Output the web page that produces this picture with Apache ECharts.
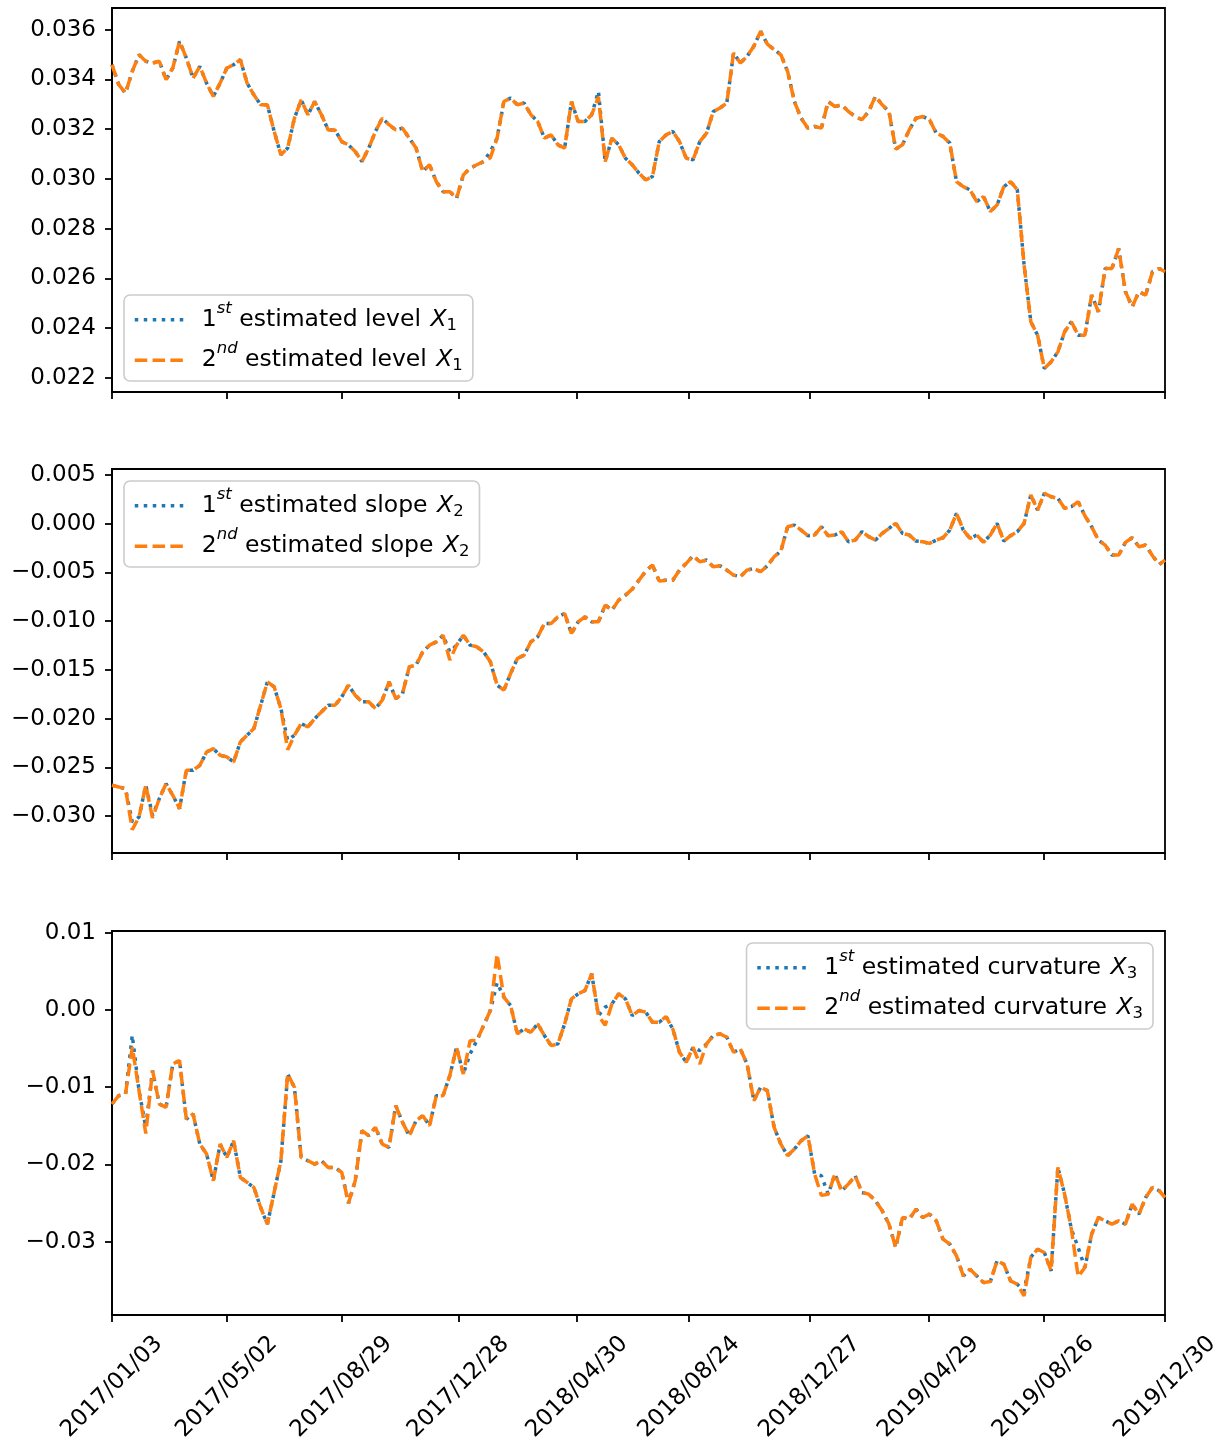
<!DOCTYPE html>
<html>
<head>
<meta charset="utf-8">
<script src="https://cdn.jsdelivr.net/npm/echarts@6/dist/echarts.min.js"></script>
<style>html,body{margin:0;padding:0;background:#fff}#chart{width:1227px;height:1446px}</style>
</head>
<body>
<div id="chart"></div>
<script>
// ---------- data (one value per week) ----------
const firstSampleDate = '2017/01/03';
const lastSampleDate = '2019/12/30';
const sampleStepDays = 7;

const xTickLabels = ['2017/01/03','2017/05/02','2017/08/29','2017/12/28','2018/04/30',
  '2018/08/24','2018/12/27','2019/04/29','2019/08/26','2019/12/30'];

const levelTicks = [0.022, 0.024, 0.026, 0.028, 0.030, 0.032, 0.034, 0.036];
const slopeTicks = [-0.030, -0.025, -0.020, -0.015, -0.010, -0.005, 0.000, 0.005];
const curvTicks = [-0.03, -0.02, -0.01, 0.00, 0.01];

const levelFirst = [
  0.03459, 0.03379, 0.03345, 0.03432, 0.03499, 0.03473, 0.03466, 0.03473, 0.03399, 0.03446,
  0.03553, 0.03486, 0.03405, 0.03452, 0.03385, 0.03332, 0.03385, 0.03446, 0.03459, 0.03479,
  0.03385, 0.03338, 0.03298, 0.03298, 0.03191, 0.03097, 0.03124, 0.03244, 0.03318, 0.03258,
  0.03311, 0.03258, 0.03197, 0.03197, 0.03150, 0.03137, 0.03110, 0.03070, 0.03124, 0.03191,
  0.03244, 0.03218, 0.03197, 0.03204, 0.03164, 0.03124, 0.03030, 0.03057, 0.02989, 0.02949,
  0.02949, 0.02922, 0.03016, 0.03043, 0.03057, 0.03070, 0.03110, 0.03164, 0.03311, 0.03325,
  0.03298, 0.03305, 0.03258, 0.03231, 0.03164, 0.03177, 0.03137, 0.03124, 0.03311, 0.03231,
  0.03231, 0.03258, 0.03352, 0.03070, 0.03164, 0.03137, 0.03083, 0.03057, 0.03023, 0.02996,
  0.03010, 0.03150, 0.03177, 0.03191, 0.03150, 0.03083, 0.03077, 0.03150, 0.03184, 0.03271,
  0.03285, 0.03305, 0.03506, 0.03466, 0.03493, 0.03533, 0.03593, 0.03542, 0.03520, 0.03499,
  0.03432, 0.03311, 0.03244, 0.03204, 0.03211, 0.03204, 0.03311, 0.03291, 0.03298, 0.03271,
  0.03251, 0.03238, 0.03271, 0.03332, 0.03298, 0.03271, 0.03120, 0.03137, 0.03197, 0.03244,
  0.03251, 0.03238, 0.03184, 0.03171, 0.03144, 0.02989, 0.02969, 0.02956, 0.02909, 0.02929,
  0.02869, 0.02895, 0.02969, 0.02989, 0.02956, 0.02654, 0.02426, 0.02372, 0.02238, 0.02265,
  0.02305, 0.02386, 0.02426, 0.02372, 0.02372, 0.02533, 0.02466, 0.02640, 0.02640, 0.02720,
  0.02547, 0.02486, 0.02547, 0.02533, 0.02627, 0.02640, 0.02627
];
const levelSecond = [
  0.03459, 0.03379, 0.03345, 0.03432, 0.03499, 0.03473, 0.03466, 0.03473, 0.03399, 0.03446,
  0.03553, 0.03486, 0.03405, 0.03452, 0.03385, 0.03332, 0.03385, 0.03446, 0.03459, 0.03479,
  0.03385, 0.03338, 0.03298, 0.03298, 0.03191, 0.03097, 0.03124, 0.03244, 0.03318, 0.03258,
  0.03311, 0.03258, 0.03197, 0.03197, 0.03150, 0.03137, 0.03110, 0.03070, 0.03124, 0.03191,
  0.03244, 0.03218, 0.03197, 0.03204, 0.03164, 0.03124, 0.03030, 0.03057, 0.02989, 0.02949,
  0.02949, 0.02922, 0.03016, 0.03043, 0.03057, 0.03070, 0.03085, 0.03164, 0.03311, 0.03325,
  0.03298, 0.03305, 0.03258, 0.03231, 0.03164, 0.03177, 0.03137, 0.03124, 0.03311, 0.03231,
  0.03231, 0.03258, 0.03330, 0.03070, 0.03164, 0.03137, 0.03083, 0.03057, 0.03023, 0.02996,
  0.03010, 0.03150, 0.03177, 0.03191, 0.03150, 0.03083, 0.03077, 0.03150, 0.03184, 0.03271,
  0.03285, 0.03305, 0.03506, 0.03466, 0.03493, 0.03533, 0.03593, 0.03542, 0.03520, 0.03499,
  0.03432, 0.03311, 0.03244, 0.03204, 0.03211, 0.03204, 0.03311, 0.03291, 0.03298, 0.03271,
  0.03251, 0.03238, 0.03271, 0.03332, 0.03298, 0.03271, 0.03120, 0.03137, 0.03197, 0.03244,
  0.03251, 0.03238, 0.03184, 0.03171, 0.03144, 0.02989, 0.02969, 0.02956, 0.02909, 0.02929,
  0.02869, 0.02895, 0.02969, 0.02989, 0.02956, 0.02654, 0.02426, 0.02372, 0.02238, 0.02265,
  0.02305, 0.02386, 0.02426, 0.02372, 0.02372, 0.02533, 0.02466, 0.02640, 0.02640, 0.02720,
  0.02547, 0.02486, 0.02547, 0.02533, 0.02627, 0.02640, 0.02627
];

const slopeFirst = [
  -0.02684, -0.02701, -0.02719, -0.03061, -0.03010, -0.02684, -0.02992, -0.02821, -0.02667, -0.02787,
  -0.02924, -0.02530, -0.02530, -0.02479, -0.02342, -0.02308, -0.02376, -0.02393, -0.02445, -0.02239,
  -0.02171, -0.02102, -0.01863, -0.01623, -0.01674, -0.01897, -0.02222, -0.02171, -0.02051, -0.02085,
  -0.02000, -0.01931, -0.01863, -0.01863, -0.01777, -0.01657, -0.01760, -0.01828, -0.01828, -0.01897,
  -0.01811, -0.01623, -0.01794, -0.01743, -0.01469, -0.01452, -0.01315, -0.01246, -0.01212, -0.01144,
  -0.01315, -0.01246, -0.01144, -0.01246, -0.01263, -0.01315, -0.01417, -0.01657, -0.01708, -0.01537,
  -0.01383, -0.01349, -0.01212, -0.01161, -0.01024, -0.01024, -0.00955, -0.00921, -0.01126, -0.01007,
  -0.00955, -0.01007, -0.01007, -0.00835, -0.00887, -0.00784, -0.00733, -0.00671, -0.00579, -0.00486,
  -0.00424, -0.00589, -0.00579, -0.00579, -0.00476, -0.00407, -0.00329, -0.00390, -0.00373, -0.00442,
  -0.00432, -0.00476, -0.00527, -0.00544, -0.00476, -0.00459, -0.00493, -0.00432, -0.00339, -0.00281,
  -0.00031, -0.00014, -0.00065, -0.00123, -0.00116, -0.00031, -0.00123, -0.00116, -0.00082, -0.00185,
  -0.00168, -0.00082, -0.00133, -0.00168, -0.00099, -0.00048, 0.00004, -0.00099, -0.00116, -0.00178,
  -0.00185, -0.00202, -0.00168, -0.00144, -0.00065, 0.00106, -0.00065, -0.00151, -0.00116, -0.00190,
  -0.00116, 0.00004, -0.00178, -0.00123, -0.00082, 0.00004, 0.00295, 0.00140, 0.00312, 0.00277,
  0.00260, 0.00158, 0.00175, 0.00226, 0.00082, -0.00031, -0.00168, -0.00219, -0.00322, -0.00322,
  -0.00192, -0.00144, -0.00236, -0.00219, -0.00329, -0.00418, -0.00373
];
const slopeSecond = [
  -0.02684, -0.02701, -0.02719, -0.03140, -0.03010, -0.02684, -0.03020, -0.02821, -0.02667, -0.02787,
  -0.02924, -0.02530, -0.02530, -0.02479, -0.02342, -0.02308, -0.02376, -0.02393, -0.02445, -0.02239,
  -0.02171, -0.02102, -0.01863, -0.01623, -0.01674, -0.01897, -0.02320, -0.02171, -0.02051, -0.02085,
  -0.02000, -0.01931, -0.01863, -0.01863, -0.01777, -0.01657, -0.01760, -0.01828, -0.01828, -0.01897,
  -0.01811, -0.01623, -0.01794, -0.01743, -0.01469, -0.01452, -0.01315, -0.01246, -0.01212, -0.01144,
  -0.01400, -0.01246, -0.01144, -0.01246, -0.01263, -0.01315, -0.01417, -0.01657, -0.01708, -0.01537,
  -0.01383, -0.01349, -0.01212, -0.01161, -0.01024, -0.01024, -0.00955, -0.00921, -0.01126, -0.01007,
  -0.00955, -0.01007, -0.01007, -0.00835, -0.00887, -0.00784, -0.00733, -0.00671, -0.00579, -0.00486,
  -0.00424, -0.00589, -0.00579, -0.00579, -0.00476, -0.00407, -0.00329, -0.00390, -0.00373, -0.00442,
  -0.00432, -0.00476, -0.00527, -0.00544, -0.00476, -0.00459, -0.00493, -0.00432, -0.00339, -0.00281,
  -0.00031, -0.00014, -0.00065, -0.00123, -0.00116, -0.00031, -0.00123, -0.00116, -0.00082, -0.00185,
  -0.00168, -0.00082, -0.00133, -0.00168, -0.00099, -0.00048, 0.00004, -0.00099, -0.00116, -0.00178,
  -0.00185, -0.00202, -0.00168, -0.00144, -0.00065, 0.00106, -0.00065, -0.00151, -0.00116, -0.00190,
  -0.00116, 0.00004, -0.00178, -0.00123, -0.00082, 0.00004, 0.00295, 0.00140, 0.00312, 0.00277,
  0.00260, 0.00158, 0.00175, 0.00226, 0.00082, -0.00031, -0.00168, -0.00219, -0.00322, -0.00322,
  -0.00192, -0.00144, -0.00236, -0.00219, -0.00329, -0.00418, -0.00373
];

const curvFirst = [
  -0.01218, -0.01110, -0.01088, -0.00330, -0.01045, -0.01520, -0.00786, -0.01218, -0.01261, -0.00700,
  -0.00656, -0.01412, -0.01347, -0.01736, -0.01865, -0.02211, -0.01736, -0.01909, -0.01693, -0.02168,
  -0.02232, -0.02297, -0.02556, -0.02772, -0.02362, -0.01952, -0.00829, -0.01002, -0.01909, -0.01952,
  -0.01995, -0.01952, -0.02038, -0.02038, -0.02103, -0.02500, -0.02211, -0.01563, -0.01628, -0.01520,
  -0.01736, -0.01779, -0.01239, -0.01455, -0.01628, -0.01434, -0.01369, -0.01498, -0.01110, -0.01110,
  -0.00851, -0.00484, -0.00829, -0.00570, -0.00397, -0.00203, -0.00009, 0.00350, 0.00164, 0.00056,
  -0.00311, -0.00246, -0.00289, -0.00181, -0.00332, -0.00462, -0.00440, -0.00181, 0.00142, 0.00207,
  0.00250, 0.00466, -0.00073, 0.00035, 0.00078, 0.00207, 0.00142, -0.00073, -0.00009, -0.00030,
  -0.00160, -0.00160, -0.00086, -0.00246, -0.00548, -0.00678, -0.00484, -0.00527, -0.00440, -0.00332,
  -0.00311, -0.00354, -0.00548, -0.00505, -0.00700, -0.01175, -0.01002, -0.01045, -0.01520, -0.01736,
  -0.01887, -0.01801, -0.01693, -0.01628, -0.02124, -0.02146, -0.02384, -0.02124, -0.02340, -0.02254,
  -0.02146, -0.02362, -0.02384, -0.02470, -0.02599, -0.02772, -0.03074, -0.02686, -0.02707, -0.02578,
  -0.02686, -0.02643, -0.02729, -0.02966, -0.03031, -0.03182, -0.03441, -0.03355, -0.03441, -0.03528,
  -0.03515, -0.03247, -0.03290, -0.03506, -0.03549, -0.03636, -0.03200, -0.03096, -0.03139, -0.03377,
  -0.02038, -0.02384, -0.02837, -0.03074, -0.03333, -0.02902, -0.02686, -0.02729, -0.02772, -0.02729,
  -0.02772, -0.02513, -0.02643, -0.02427, -0.02297, -0.02340, -0.02427
];
const curvSecond = [
  -0.01218, -0.01110, -0.01088, -0.00480, -0.01045, -0.01600, -0.00786, -0.01218, -0.01261, -0.00700,
  -0.00656, -0.01412, -0.01347, -0.01736, -0.01865, -0.02211, -0.01736, -0.01909, -0.01693, -0.02168,
  -0.02232, -0.02297, -0.02556, -0.02772, -0.02362, -0.01952, -0.00829, -0.01002, -0.01909, -0.01952,
  -0.01995, -0.01952, -0.02038, -0.02038, -0.02103, -0.02500, -0.02211, -0.01563, -0.01628, -0.01520,
  -0.01736, -0.01779, -0.01239, -0.01455, -0.01628, -0.01434, -0.01369, -0.01498, -0.01110, -0.01110,
  -0.00851, -0.00484, -0.00829, -0.00400, -0.00397, -0.00203, -0.00009, 0.00720, 0.00164, 0.00056,
  -0.00311, -0.00246, -0.00289, -0.00181, -0.00332, -0.00462, -0.00440, -0.00181, 0.00142, 0.00207,
  0.00250, 0.00466, -0.00073, -0.00200, 0.00078, 0.00207, 0.00142, -0.00073, -0.00009, -0.00030,
  -0.00160, -0.00160, -0.00086, -0.00246, -0.00548, -0.00678, -0.00484, -0.00700, -0.00440, -0.00332,
  -0.00311, -0.00354, -0.00548, -0.00505, -0.00700, -0.01175, -0.01002, -0.01045, -0.01520, -0.01736,
  -0.01887, -0.01801, -0.01693, -0.01628, -0.02124, -0.02400, -0.02384, -0.02124, -0.02340, -0.02254,
  -0.02146, -0.02362, -0.02384, -0.02470, -0.02599, -0.02772, -0.03074, -0.02686, -0.02707, -0.02578,
  -0.02686, -0.02643, -0.02729, -0.02966, -0.03031, -0.03182, -0.03441, -0.03355, -0.03441, -0.03528,
  -0.03515, -0.03247, -0.03290, -0.03506, -0.03549, -0.03700, -0.03200, -0.03096, -0.03139, -0.03377,
  -0.02038, -0.02384, -0.02837, -0.03450, -0.03333, -0.02902, -0.02686, -0.02729, -0.02772, -0.02729,
  -0.02772, -0.02513, -0.02643, -0.02427, -0.02297, -0.02340, -0.02427
];

// ---------- helpers ----------
const FONT = 'DejaVu Sans';
const BLUE = '#1f77b4', ORANGE = '#ff7f0e';
const LINE_W = 3.5;
function parseYmd(s) { const p = s.split('/').map(Number); return new Date(p[0], p[1] - 1, p[2]).getTime(); }
function fmtYmd(t) {
  const d = new Date(t);
  return d.getFullYear() + '/' + String(d.getMonth() + 1).padStart(2, '0') + '/' + String(d.getDate()).padStart(2, '0');
}
const start = parseYmd(firstSampleDate);
const sampleDates = [];
for (let i = 0; i < levelFirst.length - 1; i++) {
  const d = new Date(start); d.setDate(d.getDate() + sampleStepDays * i); sampleDates.push(d.getTime());
}
sampleDates.push(parseYmd(lastSampleDate));
const xTicks = xTickLabels.map(parseYmd);
const pairs = arr => arr.map((v, i) => [sampleDates[i], v]);
const minus = s => s.replace('-', '\u2212');

const gridBoxes = [
  { top: 8, height: 384 },
  { top: 469, height: 384 },
  { top: 931, height: 384 }
];
const yRanges = [
  { min: 0.021437, max: 0.03687, ticks: levelTicks, dec: 3 },
  { min: -0.03379, max: 0.005616, ticks: slopeTicks, dec: 3 },
  { min: -0.03947, max: 0.0102, ticks: curvTicks, dec: 2 }
];

const axisLineStyle = { color: '#000', width: 1.8 };
const grid = gridBoxes.map(g => ({
  left: 112, width: 1053, top: g.top, height: g.height,
  show: true, borderColor: '#000', borderWidth: 1.8, backgroundColor: '#fff',
  containLabel: false
}));
const xAxis = gridBoxes.map((g, k) => ({
  type: 'value', gridIndex: k, scale: true,
  min: xTicks[0], max: xTicks[xTicks.length - 1],
  axisLine: { show: true, onZero: false, lineStyle: axisLineStyle },
  axisTick: { show: true, customValues: xTicks, length: 7, lineStyle: axisLineStyle },
  axisLabel: {
    show: k === 2, customValues: xTicks, rotate: 45, align: 'center', verticalAlign: 'middle',
    margin: 72, fontSize: 23, fontFamily: FONT, color: '#000', formatter: v => fmtYmd(v)
  },
  splitLine: { show: false }, minorTick: { show: false }
}));
const yAxis = yRanges.map((r, k) => ({
  type: 'value', gridIndex: k, min: r.min, max: r.max, scale: true,
  axisLine: { show: true, onZero: false, lineStyle: axisLineStyle },
  axisTick: { show: true, customValues: r.ticks, length: 7, lineStyle: axisLineStyle },
  axisLabel: {
    customValues: r.ticks, margin: 16, fontSize: 23, fontFamily: FONT, color: '#000',
    formatter: v => minus(Number(v).toFixed(r.dec))
  },
  splitLine: { show: false }
}));

const seriesDefs = [
  { name: 'level1', data: levelFirst, k: 0, first: true },
  { name: 'level2', data: levelSecond, k: 0, first: false },
  { name: 'slope1', data: slopeFirst, k: 1, first: true },
  { name: 'slope2', data: slopeSecond, k: 1, first: false },
  { name: 'curv1', data: curvFirst, k: 2, first: true },
  { name: 'curv2', data: curvSecond, k: 2, first: false }
];
const series = seriesDefs.map(s => ({
  type: 'line', name: s.name, xAxisIndex: s.k, yAxisIndex: s.k,
  data: pairs(s.data), symbol: 'none', showSymbol: false, smooth: false,
  lineStyle: { color: s.first ? BLUE : ORANGE, width: LINE_W, type: s.first ? [3.5, 5.5] : [12.5, 5.3], cap: 'butt' },
  itemStyle: { color: s.first ? BLUE : ORANGE },
  z: s.first ? 2 : 3, silent: true
}));

const legendWords = {
  level1: ['1', 'st', 'level', '1'], level2: ['2', 'nd', 'level', '1'],
  slope1: ['1', 'st', 'slope', '2'], slope2: ['2', 'nd', 'slope', '2'],
  curv1: ['1', 'st', 'curvature', '3'], curv2: ['2', 'nd', 'curvature', '3']
};
const rich = {
  n: { fontSize: 23.5, lineHeight: 30, fontFamily: FONT, color: '#000' },
  sup: { fontSize: 16.5, fontStyle: 'italic', lineHeight: 16, padding: [0, 0, 22.4, 0], fontFamily: FONT, color: '#000' },
  x: { fontSize: 23.5, fontStyle: 'italic', lineHeight: 30, fontFamily: FONT, color: '#000', padding: [0, 0, 0, 2] },
  sub: { fontSize: 16.5, lineHeight: 16, padding: [11.2, 0, 0, 0], fontFamily: FONT, color: '#000' }
};
function legendBox(names, pos) {
  return Object.assign({
    show: true, selectedMode: false, orient: 'vertical', data: names,
    itemWidth: 49, itemHeight: 14, itemGap: 1.1,
    padding: [5, 10, 1.1, 9],
    backgroundColor: 'rgba(255,255,255,0.8)', borderColor: '#cccccc', borderWidth: 1.6, borderRadius: 6,
    itemStyle: { opacity: 0 },
    lineStyle: { width: LINE_W },
    textStyle: { rich: rich, padding: [0, 0, 0, 13] },
    formatter: name => {
      const w = legendWords[name];
      return '{n|' + w[0] + '}{sup|' + w[1] + '}{n| estimated ' + w[2] + ' }{x|X}{sub|' + w[3] + '}';
    }
  }, pos);
}
const legend = [
  legendBox(['level1', 'level2'], { left: 124, top: 295 }),
  legendBox(['slope1', 'slope2'], { left: 124, top: 481 }),
  legendBox(['curv1', 'curv2'], { right: 74, top: 943 })
];

const chart = echarts.init(document.getElementById('chart'), null, { renderer: 'canvas' });
chart.setOption({
  animation: false,
  backgroundColor: '#fff',
  textStyle: { fontFamily: FONT },
  grid: grid, xAxis: xAxis, yAxis: yAxis, legend: legend, series: series
});
</script>
</body>
</html>
